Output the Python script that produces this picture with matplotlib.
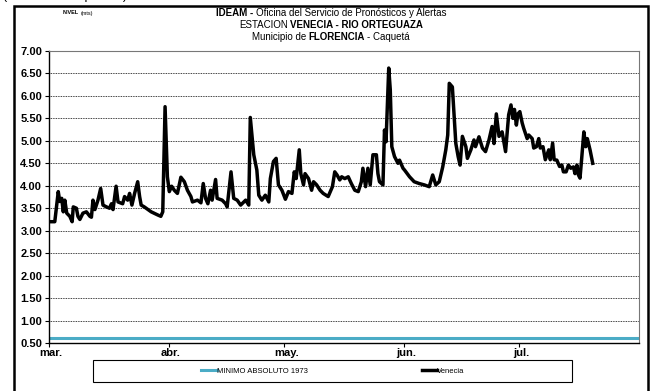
import matplotlib
matplotlib.use('Agg')
import matplotlib.pyplot as plt
import numpy as np
import pandas as pd
from matplotlib.patches import Rectangle
from matplotlib.ticker import FormatStrFormatter
from matplotlib.transforms import ScaledTranslation

plt.rcParams['font.family'] = ['Liberation Sans', 'DejaVu Sans']

W, H = 652, 391

inicio = pd.Timestamp('2011-03-01')
fin = pd.Timestamp('2011-08-01')

# dias desde el 1 de marzo y nivel leido (m)
dias = [0.0, 1.5, 2.4, 2.8, 3.3, 3.7, 4.1, 4.6, 5.4, 6.0,
        6.3, 7.1, 7.5, 8.0, 8.8, 9.7, 10.6, 11.0, 11.4, 11.9,
        12.7, 13.4, 14.0, 14.9, 15.7, 16.2, 16.6, 17.4, 17.9, 19.1,
        19.6, 20.4, 20.9, 21.5, 22.2, 23.0, 23.5, 23.9, 24.7, 26.5,
        28.2, 29.0, 29.5, 30.1, 30.7, 31.2, 31.8, 32.5, 33.3, 34.2,
        35.1, 35.9, 36.8, 37.2, 38.5, 39.4, 40.0, 40.6, 41.2, 41.9,
        42.3, 43.2, 43.6, 44.9, 45.8, 46.2, 47.2, 47.9, 48.8, 49.7,
        51.0, 51.8, 52.2, 53.1, 53.9, 54.4, 55.2, 56.1, 57.0, 57.4,
        58.2, 58.9, 59.5, 60.4, 61.3, 62.1, 63.0, 63.6, 64.1, 64.9,
        65.3, 66.0, 66.4, 67.3, 68.1, 68.6, 69.4, 70.3, 71.1, 72.4,
        73.5, 74.1, 74.7, 75.4, 75.9, 76.7, 77.6, 78.4, 79.3, 80.2,
        81.0, 81.4, 82.1, 82.7, 83.3, 84.0, 84.9, 85.3, 85.7, 86.6,
        87.0, 87.4, 88.1, 88.5, 88.9, 89.6, 90.5, 90.9, 91.8, 92.2,
        93.5, 94.7, 96.0, 97.3, 98.6, 99.5, 100.3, 101.2, 102.1, 102.9,
        103.4, 103.8, 104.6, 105.1, 105.5, 106.1, 106.6, 107.2, 108.1, 108.5,
        109.4, 110.2, 110.6, 111.5, 112.4, 113.2, 114.1, 114.9, 115.4, 116.0,
        116.7, 117.5, 118.4, 119.2, 119.8, 120.3, 120.7, 121.2, 121.6, 122.1,
        122.7, 123.1, 124.0, 124.4, 125.3, 125.7, 126.4, 127.0, 127.4, 128.1,
        128.7, 129.6, 130.0, 130.6, 131.0, 131.7, 132.4, 133.0, 133.4, 134.1,
        134.7, 135.3, 136.0, 136.4, 136.9, 137.3, 137.7, 138.1, 138.7, 139.2,
        139.6, 140.3, 141.0]
nivel = [3.20, 3.20, 3.87, 3.65, 3.72, 3.42, 3.68, 3.39, 3.32, 3.20,
         3.53, 3.50, 3.32, 3.25, 3.39, 3.42, 3.32, 3.30, 3.68, 3.47,
         3.68, 3.94, 3.57, 3.53, 3.50, 3.60, 3.47, 3.99, 3.64, 3.60,
         3.76, 3.68, 3.83, 3.57, 3.83, 4.09, 3.76, 3.57, 3.53, 3.42,
         3.35, 3.32, 3.42, 5.76, 4.20, 3.87, 3.99, 3.90, 3.83, 4.19,
         4.09, 3.90, 3.76, 3.64, 3.68, 3.62, 4.05, 3.72, 3.60, 3.90,
         3.68, 4.14, 3.72, 3.68, 3.60, 3.53, 4.31, 3.72, 3.68, 3.57,
         3.68, 3.57, 5.52, 4.69, 4.35, 3.79, 3.68, 3.79, 3.64, 4.16,
         4.54, 4.61, 4.02, 3.90, 3.70, 3.87, 3.83, 4.31, 4.16, 4.80,
         4.27, 4.02, 4.27, 4.16, 3.90, 4.09, 4.02, 3.90, 3.83, 3.76,
         3.98, 4.31, 4.24, 4.13, 4.20, 4.16, 4.20, 4.05, 3.90, 3.87,
         4.09, 4.39, 3.98, 4.39, 4.02, 4.69, 4.69, 4.27, 4.09, 4.02,
         5.24, 4.98, 6.62, 6.14, 4.87, 4.65, 4.50, 4.57, 4.39, 4.35,
         4.20, 4.09, 4.05, 4.02, 3.98, 4.24, 4.02, 4.09, 4.42, 4.80,
         5.13, 6.28, 6.20, 5.50, 4.94, 4.65, 4.46, 5.10, 4.87, 4.61,
         4.80, 5.02, 4.87, 5.09, 4.84, 4.76, 5.02, 5.32, 4.94, 5.60,
         5.10, 5.20, 4.76, 5.58, 5.80, 5.50, 5.70, 5.35, 5.60, 5.65,
         5.40, 5.28, 5.05, 5.13, 5.05, 4.84, 4.87, 5.05, 4.84, 4.87,
         4.58, 4.80, 4.58, 4.95, 4.58, 4.57, 4.43, 4.46, 4.31, 4.31,
         4.46, 4.39, 4.42, 4.27, 4.46, 4.24, 4.17, 4.57, 5.20, 4.87,
         5.05, 4.80, 4.50]

minimo_1973 = 0.62

meses = ['mar.', 'abr.', 'may.', 'jun.', 'jul.']
inicio_meses = pd.to_datetime(['2011-03-01', '2011-04-01', '2011-05-01',
                               '2011-06-01', '2011-07-01'])

fechas = inicio + pd.to_timedelta(dias, unit='D')


def texto_mixto(fig, y_px, partes, size, cx=331):
    '''Linea centrada con tramos en negrita y normal'''
    r = fig.canvas.get_renderer()
    hueco = 0.25 * size * fig.dpi / 72
    objs = []
    for s, w in partes:
        t = fig.text(0, 1 - y_px / H, s, fontsize=size, fontweight=w,
                     va='center', ha='left')
        objs.append((t, t.get_window_extent(r).width))
    total = sum(wd for _, wd in objs) + hueco * (len(objs) - 1)
    x = cx - total / 2
    for t, wd in objs:
        t.set_x(x / W)
        x += wd + hueco
    return x


fig = plt.figure(figsize=(W / 100, H / 100), dpi=100)
ax = fig.add_axes([49 / W, 1 - 343 / H, 590 / W, 292 / H])

ax.axhline(minimo_1973, color='#4bacc6', lw=2.2, label='MINIMO ABSOLUTO 1973')
ax.plot(fechas, nivel, color='black', lw=2.5, solid_joinstyle='round',
        label='Venecia')

ax.set_xlim(inicio, fin)
ax.set_ylim(0.5, 7.0)
ax.set_yticks(np.arange(0.5, 7.01, 0.5))
ax.yaxis.set_major_formatter(FormatStrFormatter('%.2f'))
ax.set_xticks(inicio_meses)
ax.set_xticklabels(meses)
ax.grid(axis='y', color='black', ls=(0, (1, 1)), lw=0.6)
ax.set_axisbelow(True)

ax.tick_params(direction='out', length=3, width=0.8, labelsize=8, pad=2)
ax.tick_params(axis='x', pad=0.5)
for lab in ax.get_xticklabels() + ax.get_yticklabels():
    lab.set_fontweight('bold')
for lab in ax.get_xticklabels():
    lab.set_transform(lab.get_transform() +
                      ScaledTranslation(2 / 100, 0, fig.dpi_scale_trans))

for lado in ['left', 'bottom']:
    ax.spines[lado].set_color('black')
    ax.spines[lado].set_linewidth(1.0)
for lado in ['top', 'right']:
    ax.spines[lado].set_color('#777777')
    ax.spines[lado].set_linewidth(0.8)

# marco exterior
fig.add_artist(Rectangle((14 / W, -0.05), (648 - 14) / W, 1.05 - 5.5 / H,
                         transform=fig.transFigure, fill=False,
                         ec='black', lw=1.8))

# leyenda
fig.add_artist(Rectangle((93 / W, 1 - 382 / H), (572 - 93) / W, 22 / H,
                         transform=fig.transFigure, fill=False,
                         ec='black', lw=0.8))
fig.legend(loc='center', bbox_to_anchor=(333 / W, 1 - 371 / H),
           ncol=2, frameon=False, fontsize=5.5, handlelength=2.0,
           handletextpad=0.0, columnspacing=15)

# titulos
texto_mixto(fig, 12.5, [('IDEAM -', 'bold'),
                        ('Oficina del Servicio de Pronósticos y Alertas', 'normal')], 7)
texto_mixto(fig, 24.5, [('ESTACION', 'normal'),
                        ('VENECIA - RIO ORTEGUAZA', 'bold')], 7)
texto_mixto(fig, 36.5, [('Municipio de', 'normal'), ('FLORENCIA', 'bold'),
                        ('- Caquetá', 'normal')], 7)
texto_mixto(fig, 13, [('NIVEL', 'bold'), ('(mts)', 'normal')], 4, cx=78)

# linea superior recortada en el original
fig.text(3 / W, 1 + 1.5 / H, '(Datos en tiempo real)', fontsize=9,
         va='baseline', ha='left')

fig.savefig('out.png', dpi=100)
